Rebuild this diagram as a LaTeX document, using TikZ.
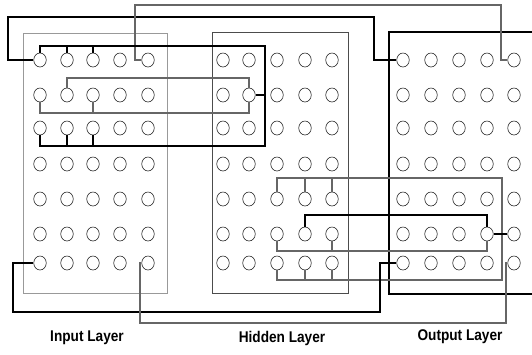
\documentclass[tikz,border=0pt]{standalone}
\usepackage{fontspec}
\newfontfamily\lblfont{Liberation Sans}[FakeStretch=0.88]
\usetikzlibrary{shapes.geometric}
\begin{document}
\begin{tikzpicture}[x=1pt,y=-1pt,
  neuron/.style={ellipse,draw=black!85,line width=0.6pt,minimum width=12.5pt,minimum height=14pt,inner sep=0pt},
  blk/.style={draw=black,line width=1.4pt},
  gry/.style={draw=black!60,line width=1.1pt},
  lbl/.style={font=\lblfont\bfseries\fontsize{15.5}{17}\selectfont,inner sep=0pt}]
\path[use as bounding box] (0,0) rectangle (532,354);
% boxes
\draw[black!40,line width=1pt] (23,33) rectangle (167,293);
\draw[black!70,line width=1pt] (212,32) rectangle (348,293);
\draw[black,line width=1.4pt] (532,32) -- (389,32) -- (389,294) -- (532,294);
% neurons
\def\rows{60,95,128,164,199,234,263}
\foreach \y [count=\r from 0] in \rows {
  \foreach \x [count=\c from 0] in {40,67,93,120,148} { \node[neuron] (i-\r-\c) at (\x,\y) {}; }
  \foreach \x [count=\c from 0] in {223,249,277,305,332} { \node[neuron] (h-\r-\c) at (\x,\y) {}; }
  \foreach \x [count=\c from 0] in {403,431,459,487,514} { \node[neuron] (o-\r-\c) at (\x,\y) {}; }
}
% coordinates
\coordinate (aL) at (8,17); \coordinate (aR) at (374,17);
\coordinate (bL) at (135,5); \coordinate (bR) at (501,5);
\coordinate (cTR) at (265,46); \coordinate (cBR) at (265,146);
\coordinate (dY) at (0,78); \coordinate (eY) at (0,113);
\coordinate (fTR) at (502,178); \coordinate (fBR) at (502,280);
\coordinate (gY) at (0,215); \coordinate (hY) at (0,251);
\coordinate (jL) at (13,312); \coordinate (jR) at (380,312);
\coordinate (kL) at (140,323); \coordinate (kR) at (506,323);
% A
\draw[blk] (i-0-0.west) -| (aL) -- (aR) |- (o-0-0.west);
% B
\draw[gry] (i-0-4.west) -| (bL) -- (bR) |- (o-0-4.west);
% C
\draw[blk] (i-0-0.north) |- (cTR) -- (cBR) -| (i-2-0.south);
\foreach \c in {1,2} {
  \draw[blk] (i-0-\c.north) -- (i-0-\c.north |- cTR);
  \draw[blk] (i-2-\c.south) -- (i-2-\c.south |- cBR);
}
\draw[blk] (h-1-1.east) -- (h-1-1.east -| cTR);
% D
\draw[gry] (i-1-1.north) -- (i-1-1.north |- dY) -- (h-1-1.north |- dY) -- (h-1-1.north);
% E
\draw[gry] (i-1-0.south) -- (i-1-0.south |- eY) -- (h-1-1.south |- eY) -- (h-1-1.south);
\draw[gry] (i-1-2.south) -- (i-1-2.south |- eY);
% F
\draw[gry] (h-4-2.north) |- (fTR) -- (fBR) -| (h-6-2.south);
\foreach \c in {3,4} {
  \draw[gry] (h-4-\c.north) -- (h-4-\c.north |- fTR);
  \draw[gry] (h-6-\c.south) -- (h-6-\c.south |- fBR);
}
% G
\draw[blk] (h-5-3.north) -- (h-5-3.north |- gY) -- (o-5-3.north |- gY) -- (o-5-3.north);
% H
\draw[gry] (h-5-2.south) -- (h-5-2.south |- hY) -- (o-5-3.south |- hY) -- (o-5-3.south);
\draw[gry] (h-5-4.south) -- (h-5-4.south |- hY);
% I
\draw[blk] (o-5-3.east) -- (o-5-4.west);
% J
\draw[blk] (i-6-0.west) -| (jL) -- (jR) |- (o-6-0.west);
% K
\draw[gry] (i-6-4.west) -| (kL) -- (kR) |- (o-6-4.west);
% labels
\node[lbl] (lin) at (87,338) {Input Layer};
\node[lbl] (lhid) at (282,338) {Hidden Layer};
\node[lbl] (lout) at (460,337) {Output Layer};
\end{tikzpicture}
\end{document}
